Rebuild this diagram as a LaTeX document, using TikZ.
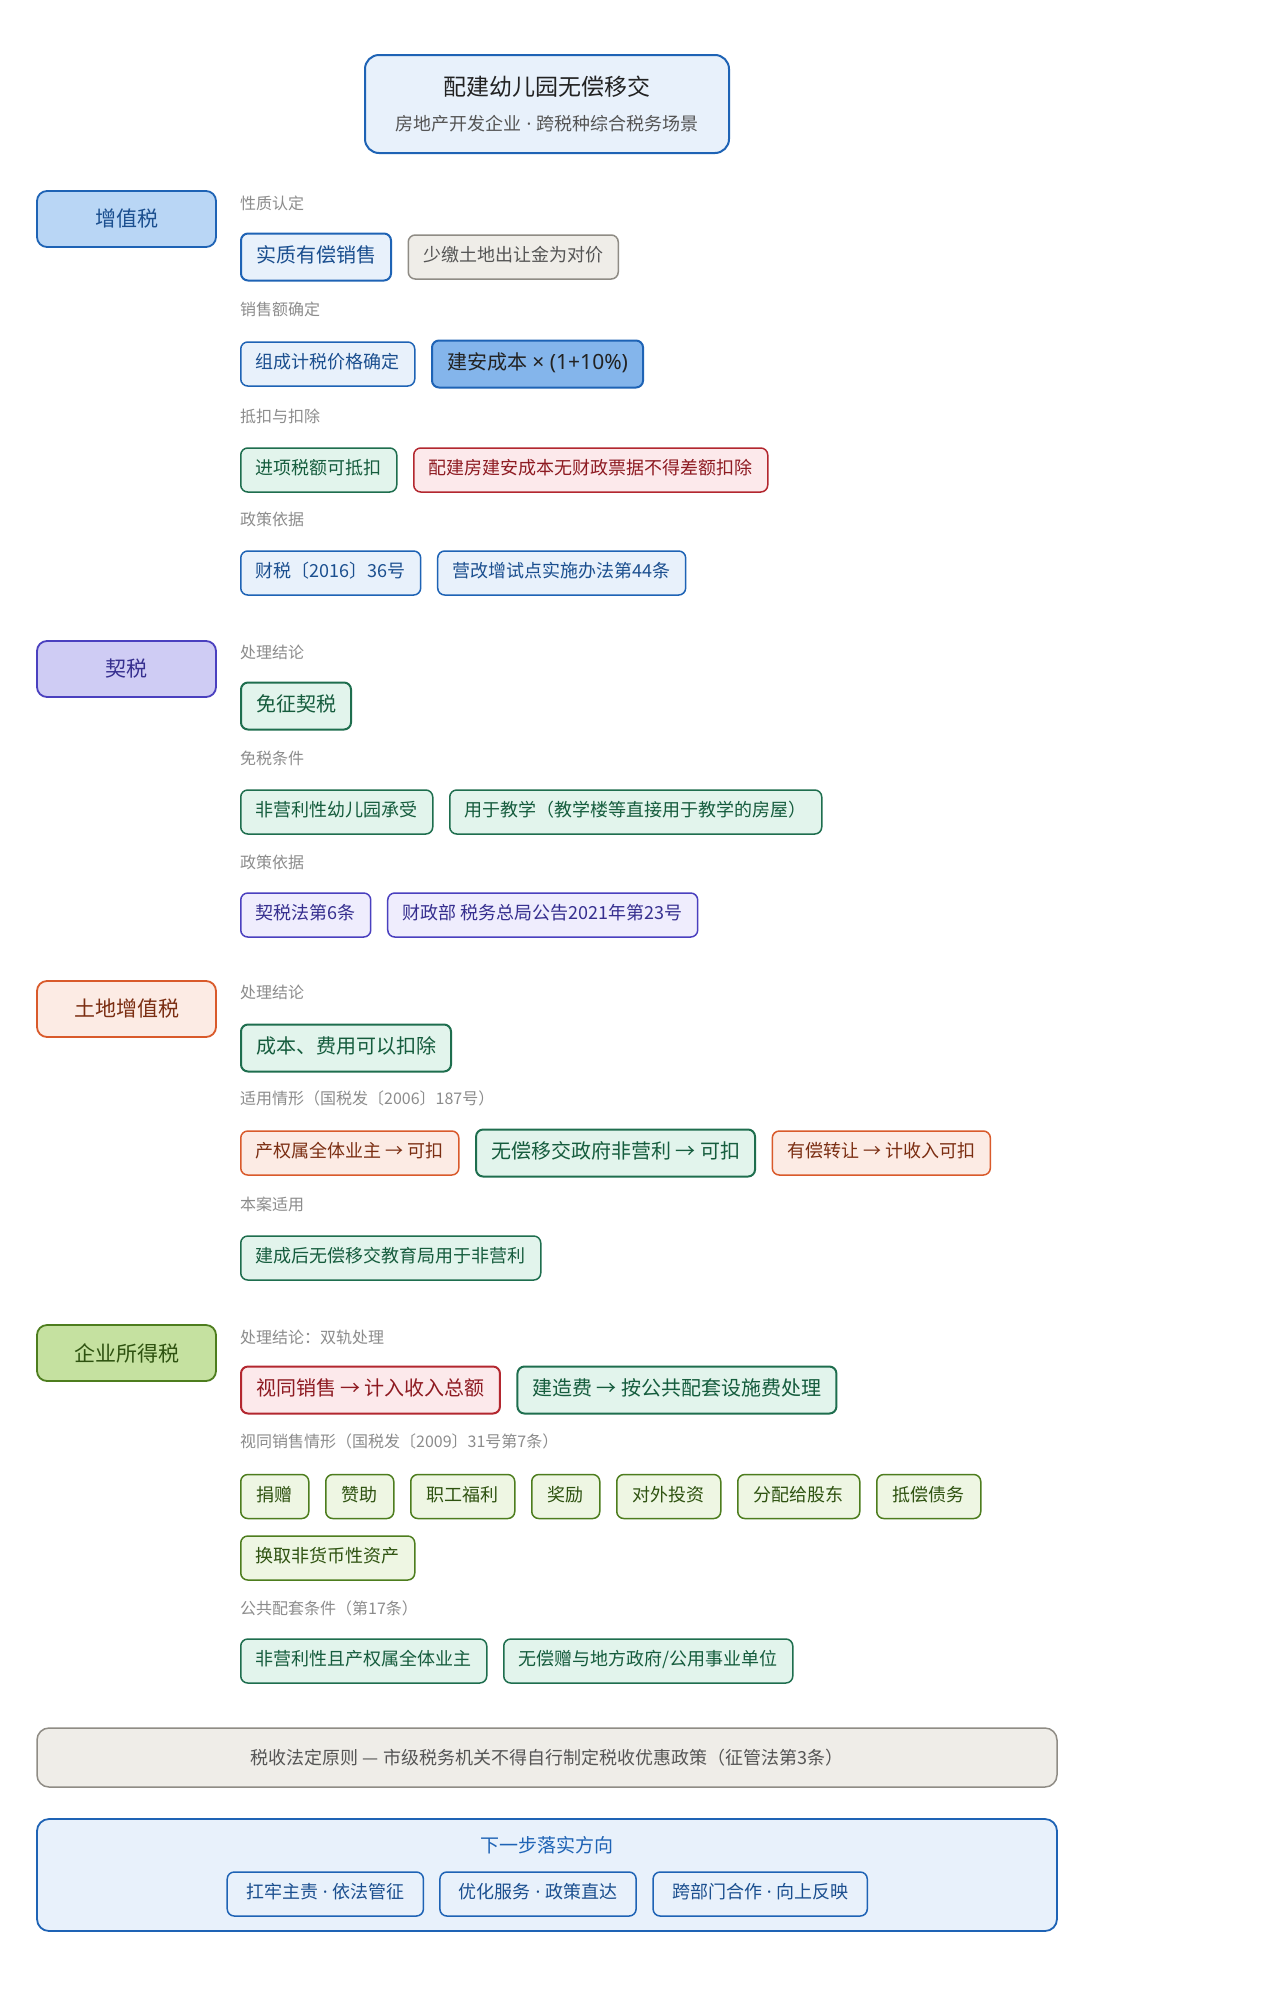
\documentclass[tikz,border=0pt]{standalone}
\usepackage{fontspec}
\setmainfont{Noto Sans CJK SC}
\newfontfamily\latinfont{Noto Sans}
\newcommand{\mydot}{{\latinfont\ ·\ }}
\usetikzlibrary{positioning}
\definecolor{blueline}{HTML}{1E63B5}
\definecolor{bluecat}{HTML}{B9D6F5}
\definecolor{bluetext}{HTML}{1B4F8F}
\definecolor{bluechip}{HTML}{E8F1FB}
\definecolor{bluedark}{HTML}{84B5EB}
\definecolor{grayfill}{HTML}{EFEDE8}
\definecolor{grayline}{HTML}{8F8C85}
\definecolor{graytext}{HTML}{555555}
\definecolor{greenfill}{HTML}{E2F4EC}
\definecolor{greenline}{HTML}{1E6E4E}
\definecolor{greentext}{HTML}{155C3D}
\definecolor{redfill}{HTML}{FCE9EB}
\definecolor{redline}{HTML}{B3272F}
\definecolor{redtext}{HTML}{8E1B22}
\definecolor{purplecat}{HTML}{CFCCF4}
\definecolor{purpleline}{HTML}{4A40BF}
\definecolor{purpletext}{HTML}{362F8F}
\definecolor{purplechip}{HTML}{EFEDFD}
\definecolor{orangefill}{HTML}{FCEBE4}
\definecolor{orangeline}{HTML}{D95A2B}
\definecolor{orangetext}{HTML}{7B2E12}
\definecolor{limecat}{HTML}{C5E1A0}
\definecolor{limeline}{HTML}{4D7D1E}
\definecolor{limetext}{HTML}{2E5210}
\definecolor{limechip}{HTML}{EEF6E3}
\definecolor{seclabel}{HTML}{8C8C8C}
\definecolor{darktext}{HTML}{222222}
\tikzset{
  chip/.style={draw, rounded corners=7pt, line width=1.5pt, inner xsep=15pt, inner ysep=0pt,
    minimum height=44pt, anchor=west, font=\fontsize{18}{20}\selectfont, text height=13pt, text depth=4pt},
  keychip/.style={chip, line width=2pt, minimum height=47pt, font=\fontsize{20}{22}\selectfont,
    text height=15pt, text depth=4pt},
  cat/.style={draw, rounded corners=10pt, line width=1.8pt, minimum width=179pt, minimum height=56pt,
    inner sep=0pt, font=\fontsize{21}{23}\selectfont},
  sec/.style={anchor=west, inner sep=0pt, text=seclabel, font=\fontsize{16}{18}\selectfont},
  blueC/.style={fill=bluechip, draw=blueline, text=bluetext},
  blueD/.style={fill=bluedark, draw=blueline, text=darktext},
  grayC/.style={fill=grayfill, draw=grayline, text=graytext},
  greenC/.style={fill=greenfill, draw=greenline, text=greentext},
  redC/.style={fill=redfill, draw=redline, text=redtext},
  purpleC/.style={fill=purplechip, draw=purpleline, text=purpletext},
  orangeC/.style={fill=orangefill, draw=orangeline, text=orangetext},
  limeC/.style={fill=limechip, draw=limeline, text=limetext},
  gap/.style={right=15.5pt of #1}
}
\begin{document}
\begin{tikzpicture}[x=1pt, y=-1pt]
\useasboundingbox[fill=white] (0,0) rectangle (1274,2000);

% title
\node[draw=blueline, fill=bluechip, line width=2pt, rounded corners=14pt, minimum width=364pt, minimum height=98pt] (titlebox) at (547,104) {};
\node[text=darktext, font=\fontsize{23}{25}\selectfont] (title) at (547,87) {配建幼儿园无偿移交};
\node[text=graytext, font=\fontsize{18}{20}\selectfont] (subtitle) at (547,124) {房地产开发企业\mydot 跨税种综合税务场景};

% ---------- 增值税 ----------
\node[cat, fill=bluecat, draw=blueline, text=bluetext] (vat) at (126.5,219) {增值税};
\node[sec] (vs1) at (240,203) {性质认定};
\node[keychip, blueC] (v1) at (240,257) {实质有偿销售};
\node[chip, grayC, gap=v1] (v2) {少缴土地出让金为对价};
\node[sec] (vs2) at (240,309) {销售额确定};
\node[chip, blueC] (v3) at (240,364) {组成计税价格确定};
\node[keychip, blueD, gap=v3] (v4) {建安成本{\latinfont\fontsize{21}{23}\selectfont\ × (1+10\%)}};
\node[sec] (vs3) at (240,416) {抵扣与扣除};
\node[chip, greenC] (v5) at (240,470) {进项税额可抵扣};
\node[chip, redC, gap=v5] (v6) {配建房建安成本无财政票据不得差额扣除};
\node[sec] (vs4) at (240,519) {政策依据};
\node[chip, blueC] (v7) at (240,573) {财税〔2016〕36号};
\node[chip, blueC, gap=v7] (v8) {营改增试点实施办法第44条};

% ---------- 契税 ----------
\node[cat, fill=purplecat, draw=purpleline, text=purpletext] (deed) at (126.5,669) {契税};
\node[sec] (ds1) at (240,652) {处理结论};
\node[keychip, greenC] (d1) at (240,706) {免征契税};
\node[sec] (ds2) at (240,758) {免税条件};
\node[chip, greenC] (d2) at (240,812) {非营利性幼儿园承受};
\node[chip, greenC, gap=d2] (d3) {用于教学（教学楼等直接用于教学的房屋）};
\node[sec] (ds3) at (240,862) {政策依据};
\node[chip, purpleC] (d4) at (240,915) {契税法第6条};
\node[chip, purpleC, gap=d4] (d5) {财政部 税务总局公告2021年第23号};

% ---------- 土地增值税 ----------
\node[cat, fill=orangefill, draw=orangeline, text=orangetext] (lat) at (126.5,1009) {土地增值税};
\node[sec] (ls1) at (240,992) {处理结论};
\node[keychip, greenC] (l1) at (240,1048) {成本、费用可以扣除};
\node[sec] (ls2) at (240,1098) {适用情形（国税发〔2006〕187号）};
\node[chip, orangeC] (l2) at (240,1153) {产权属全体业主 → 可扣};
\node[keychip, greenC, gap=l2] (l3) {无偿移交政府非营利 → 可扣};
\node[chip, orangeC, gap=l3] (l4) {有偿转让 → 计收入可扣};
\node[sec] (ls3) at (240,1204) {本案适用};
\node[chip, greenC] (l5) at (240,1258) {建成后无偿移交教育局用于非营利};

% ---------- 企业所得税 ----------
\node[cat, fill=limecat, draw=limeline, text=limetext] (cit) at (126.5,1353) {企业所得税};
\node[sec] (cs1) at (240,1337) {处理结论：双轨处理};
\node[keychip, redC] (c1) at (240,1390) {视同销售 → 计入收入总额};
\node[keychip, greenC, gap=c1] (c2) {建造费 → 按公共配套设施费处理};
\node[sec] (cs2) at (240,1441) {视同销售情形（国税发〔2009〕31号第7条）};
\node[chip, limeC, inner xsep=16pt] (e1) at (240,1496.5) {捐赠};
\node[chip, limeC, inner xsep=16pt, gap=e1] (e2) {赞助};
\node[chip, limeC, inner xsep=16pt, gap=e2] (e3) {职工福利};
\node[chip, limeC, inner xsep=16pt, gap=e3] (e4) {奖励};
\node[chip, limeC, inner xsep=16pt, gap=e4] (e5) {对外投资};
\node[chip, limeC, inner xsep=16pt, gap=e5] (e6) {分配给股东};
\node[chip, limeC, inner xsep=16pt, gap=e6] (e7) {抵偿债务};
\node[chip, limeC] (e8) at (240,1558) {换取非货币性资产};
\node[sec] (cs3) at (240,1608) {公共配套条件（第17条）};
\node[chip, greenC] (p1) at (240,1661) {非营利性且产权属全体业主};
\node[chip, greenC, gap=p1] (p2) {无偿赠与地方政府/公用事业单位};

% ---------- footers ----------
\node[draw=grayline, fill=grayfill, line width=1.5pt, rounded corners=12pt, minimum width=1020pt, minimum height=59pt,
  text=graytext, font=\fontsize{18}{20}\selectfont] (law) at (547,1757.5) {税收法定原则 — 市级税务机关不得自行制定税收优惠政策（征管法第3条）};
\node[draw=blueline, fill=bluechip, line width=1.8pt, rounded corners=12pt, minimum width=1020pt, minimum height=112pt] (next) at (547,1875) {};
\node[text=blueline, font=\fontsize{19}{21}\selectfont] (nexttitle) at (547,1845) {下一步落实方向};
\node[chip, blueC, inner xsep=19pt, anchor=center] (n2) at (538,1894) {优化服务\mydot 政策直达};
\node[chip, blueC, inner xsep=19pt, left=15pt of n2] (n1) {扛牢主责\mydot 依法管征};
\node[chip, blueC, inner xsep=19pt, gap=n2] (n3) {跨部门合作\mydot 向上反映};
\end{tikzpicture}
\end{document}
